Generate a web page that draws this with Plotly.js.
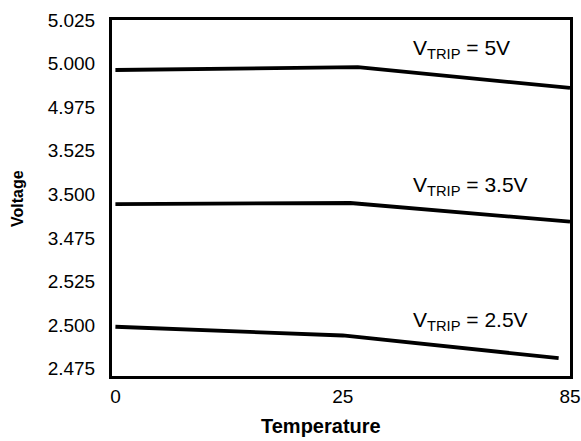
<!DOCTYPE html>
<html>
<head>
<meta charset="utf-8">
<script src="https://cdn.plot.ly/plotly-3.0.1.min.js"></script>
<style>html,body{margin:0;padding:0;background:#fff;}#chart{width:581px;height:441px;}</style>
</head>
<body>
<div id="chart"></div>
<script>
// Temperature tick labels (axis is drawn with equally spaced ticks)
var tempTicks = [0, 25, 85];
// Voltage tick labels (broken axis: three bands, equally spaced)
var voltTicks = [2.475, 2.500, 2.525, 3.475, 3.500, 3.525, 4.975, 5.000, 5.025];

// Series: V_TRIP = 5V
var temp5 = [0, 29, 85];
var volt5 = [4.9963, 4.9980, 4.9860];
// Series: V_TRIP = 3.5V
var temp35 = [0, 27, 85];
var volt35 = [3.4944, 3.4950, 3.4843];
// Series: V_TRIP = 2.5V
var temp25 = [0, 25, 82];
var volt25 = [2.4990, 2.4940, 2.4810];

var labels = ['V<sub>TRIP</sub> = 5V', 'V<sub>TRIP</sub> = 3.5V', 'V<sub>TRIP</sub> = 2.5V'];

// Piecewise axis mappings used by the broken axes
function tPos(t) { return t <= 25 ? t / 25 : 1 + (t - 25) / 60; }
var bandCenters = [2.5, 3.5, 5.0];
function vPos(v) {
  var k = 0, best = 1e9;
  for (var i = 0; i < bandCenters.length; i++) {
    var d = Math.abs(v - bandCenters[i]);
    if (d < best) { best = d; k = i; }
  }
  return 3 * k + 1 + (v - bandCenters[k]) / 0.025;
}

var FONT = 'Arial, "Liberation Sans", sans-serif';

function mk(ts, vs) {
  return {
    x: ts.map(tPos), y: vs.map(vPos),
    type: 'scatter', mode: 'lines',
    line: {color: '#000', width: 3.8},
    hoverinfo: 'skip', showlegend: false
  };
}

var data = [mk(temp5, volt5), mk(temp35, volt35), mk(temp25, volt25)];

var layout = {
  width: 581, height: 441,
  margin: {l: 112, r: 11, t: 20, b: 65},
  paper_bgcolor: '#fff', plot_bgcolor: '#fff',
  font: {family: FONT, color: '#000'},
  showlegend: false,
  xaxis: {
    range: [-0.015, 2], tickvals: tempTicks.map(tPos), ticktext: tempTicks.map(String),
    showgrid: false, zeroline: false, ticks: '',
    showline: true, mirror: true, linecolor: '#000', linewidth: 3,
    tickfont: {size: 19, family: FONT, color: '#000'},
    ticklabelstandoff: 1
  },
  yaxis: {
    range: [-0.17, 8.0], tickvals: voltTicks.map(vPos),
    ticktext: voltTicks.map(function (v) { return v.toFixed(3); }),
    showgrid: false, zeroline: false, ticks: '',
    showline: true, mirror: true, linecolor: '#000', linewidth: 3,
    tickfont: {size: 19, family: FONT, color: '#000'},
    ticklabelstandoff: 10
  },
  annotations: [
    {x: 1.30, y: 7.33, xref: 'x', yref: 'y', text: labels[0], showarrow: false, xanchor: 'left', yanchor: 'middle', font: {size: 21, family: FONT, color: '#000'}},
    {x: 1.30, y: 4.19, xref: 'x', yref: 'y', text: labels[1], showarrow: false, xanchor: 'left', yanchor: 'middle', font: {size: 21, family: FONT, color: '#000'}},
    {x: 1.30, y: 1.09, xref: 'x', yref: 'y', text: labels[2], showarrow: false, xanchor: 'left', yanchor: 'middle', font: {size: 21, family: FONT, color: '#000'}},
    {x: 0, y: 0, xref: 'paper', yref: 'paper', text: '<b>Temperature</b>', showarrow: false, font: {size: 20, family: FONT, color: '#000'}},
    {x: 0, y: 0, xref: 'paper', yref: 'paper', text: '<b>Voltage</b>', textangle: -90, showarrow: false, font: {size: 16, family: FONT, color: '#000'}}
  ]
};

// convert pixel placements of the axis titles into paper coordinates
(function () {
  var pw = 581 - 112 - 11, ph = 441 - 20 - 65;
  var a = layout.annotations;
  a[3].x = (321 - 112) / pw; a[3].y = (441 - 65 - 426) / ph; a[3].yanchor = 'middle';
  a[4].x = (17 - 112) / pw; a[4].y = (441 - 65 - 199) / ph; a[4].xanchor = 'center';
})();

Plotly.newPlot('chart', data, layout, {displayModeBar: false, staticPlot: true});
</script>
</body>
</html>
